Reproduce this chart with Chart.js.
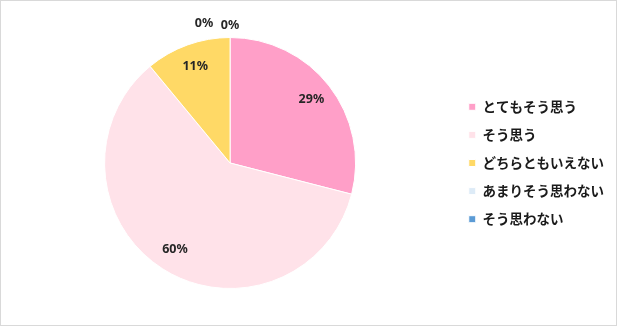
<!DOCTYPE html>
<html>
<head>
<meta charset="utf-8">
<script src="https://cdn.jsdelivr.net/npm/chart.js@4.4.0/dist/chart.umd.min.js"></script>
<style>
  body { margin: 0; background: #fff; }
  #wrap { position: relative; width: 620px; height: 326px; }
  #frame { position: absolute; left: 0; top: 0; width: 617px; height: 326px; box-sizing: border-box; border: 1px solid #d9d9d9; pointer-events: none; }
  canvas { position: absolute; left: 0; top: 0; }
</style>
</head>
<body>
<div id="wrap">
  <canvas id="pie" width="620" height="326"></canvas>
  <div id="frame"></div>
</div>
<script>
// answer categories
const labels = ['とてもそう思う', 'そう思う', 'どちらともいえない', 'あまりそう思わない', 'そう思わない'];
// share of answers (%)
const values = [29, 60, 11, 0, 0];
const colors = ['#FF9FC8', '#FFE2E9', '#FFD966', '#DDEBF7', '#5B9BD5'];

// draws the % labels; zero slices go above the top of the pie
const pctLabels = {
  id: 'pctLabels',
  afterDatasetsDraw(chart) {
    const ctx = chart.ctx;
    const meta = chart.getDatasetMeta(0);
    ctx.save();
    ctx.font = 'bold 12.5px "Noto Sans", sans-serif';
    ctx.fillStyle = '#262626';
    ctx.textAlign = 'center';
    ctx.textBaseline = 'middle';
    let zeroCount = 0;
    meta.data.forEach((arc, i) => {
      const v = values[i];
      let x, y;
      if (v === 0) {
        const r = arc.outerRadius + 12;
        x = arc.x + Math.cos(arc.startAngle) * r;
        y = arc.y + Math.sin(arc.startAngle) * r;
        const extra = values.filter(d => d === 0).length - 1 - zeroCount;
        x -= extra * 26;
        y -= extra * 2;
        zeroCount++;
      } else {
        const mid = (arc.startAngle + arc.endAngle) / 2;
        const r = arc.outerRadius * 0.82;
        x = arc.x + Math.cos(mid) * r;
        y = arc.y + Math.sin(mid) * r;
      }
      ctx.fillText(v + '%', x, y);
    });
    ctx.restore();
  }
};

let pie = new Chart(document.getElementById('pie'), {
  type: 'pie',
  data: {
    labels: labels,
    datasets: [{
      data: values,
      backgroundColor: colors,
      borderColor: '#ffffff',
      borderWidth: 1
    }]
  },
  options: {
    responsive: false,
    animation: false,
    layout: {
      padding: { top: 37, bottom: 37, left: 6, right: 6 }
    },
    plugins: {
      legend: {
        position: 'right',
        labels: {
          boxWidth: 7,
          boxHeight: 7,
          padding: 14.6,
          color: '#1a1a1a',
          font: { family: '"Noto Sans CJK JP", sans-serif', size: 13.5, weight: 'bold' }
        }
      },
      tooltip: { enabled: false }
    }
  },
  plugins: [pctLabels]
});
</script>
</body>
</html>
